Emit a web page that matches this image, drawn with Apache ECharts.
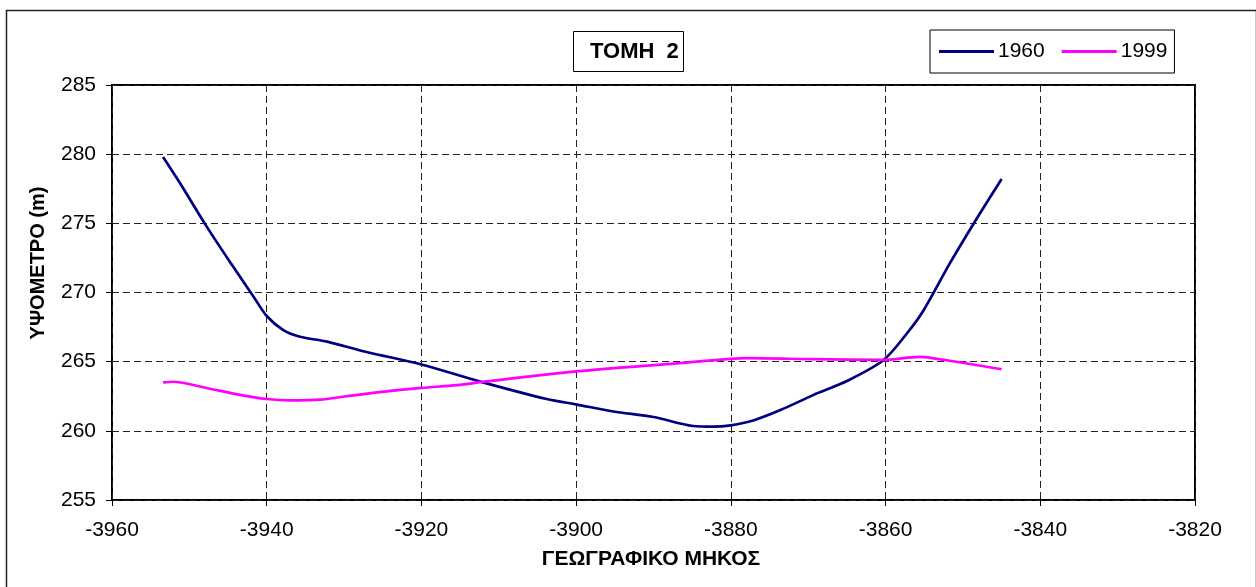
<!DOCTYPE html>
<html>
<head>
<meta charset="utf-8">
<script src="https://cdn.jsdelivr.net/npm/echarts@6/dist/echarts.min.js"></script>
<style>
html,body{margin:0;padding:0;background:#fff;}
#chart{width:1256px;height:587px;}
</style>
</head>
<body>
<div id="chart"></div>
<script>
// ---- data ----
const chartTitle = 'ΤΟΜΗ  2';
const xAxisName = 'ΓΕΩΓΡΑΦΙΚΟ ΜΗΚΟΣ';
const yAxisName = 'ΥΨΟΜΕΤΡΟ (m)';
const seriesNames = ['1960', '1999'];

const x1960 = [-3953.4, -3951.2, -3947.8, -3944.5, -3941.7, -3940.0, -3937.9, -3935.7, -3932.2, -3927.1,
               -3920.0, -3912.4, -3903.8, -3899.9, -3895.2, -3890.0, -3884.9, -3882.3, -3880.0, -3877.1,
               -3873.6, -3869.3, -3865.0, -3860.3, -3857.3, -3855.1, -3851.7, -3848.7, -3845.0];
const y1960 = [279.8, 277.9, 274.8, 272.0, 269.7, 268.3, 267.3, 266.8, 266.45, 265.7,
               264.8, 263.56, 262.3, 261.9, 261.4, 261.0, 260.35, 260.3, 260.4, 260.75,
               261.5, 262.6, 263.6, 265.1, 267.0, 268.7, 272.1, 274.9, 278.2];

const x1999 = [-3953.4, -3952.1, -3947.8, -3943.5, -3940.0, -3937.0, -3933.1, -3929.7, -3925.4, -3920.0,
               -3915.4, -3911.6, -3899.9, -3886.6, -3880.0, -3878.0, -3869.3, -3860.3, -3855.6, -3852.1, -3845.0];
const y1999 = [263.5, 263.55, 263.1, 262.6, 262.3, 262.2, 262.25, 262.5, 262.8, 263.1,
               263.3, 263.57, 264.3, 264.9, 265.2, 265.25, 265.18, 265.13, 265.35, 265.1, 264.45];

const xMin = -3960, xMax = -3820, xStep = 20;
const yMin = 255, yMax = 285, yStep = 5;

const pairs = (xs, ys) => xs.map((x, i) => [x, ys[i]]);

const FONT = '"Liberation Sans", Arial, sans-serif';
const chart = echarts.init(document.getElementById('chart'), null, {renderer: 'canvas'});

chart.setOption({
  animation: false,
  backgroundColor: '#fff',
  title: {
    text: chartTitle,
    left: 573, top: 31,
    padding: [9, 5, 9, 17],
    borderColor: '#000', borderWidth: 1,
    textStyle: {fontFamily: FONT, fontSize: 22, fontWeight: 'bold', color: '#000', lineHeight: 23}
  },
  legend: {
    left: 930, top: 30,
    padding: [11, 7, 11, 9],
    borderColor: '#000', borderWidth: 1,
    itemWidth: 55, itemHeight: 3, itemGap: 17,
    icon: 'rect',
    textStyle: {fontFamily: FONT, fontSize: 21, color: '#000', padding: [0, 0, 0, -1]},
    data: seriesNames
  },
  grid: {
    left: 112, top: 85, width: 1083, height: 415,
    show: true, borderColor: '#000', borderWidth: 2, backgroundColor: 'transparent'
  },
  xAxis: {
    type: 'value', min: xMin, max: xMax, interval: xStep,
    axisLine: {show: false},
    axisTick: {show: true, inside: false, length: 6, lineStyle: {color: '#000'}},
    axisLabel: {fontFamily: FONT, fontSize: 21, color: '#000', margin: 20, formatter: v => String(v)},
    splitLine: {show: true, lineStyle: {color: '#222', width: 1, type: [7, 4]}}
  },
  yAxis: {
    type: 'value', min: yMin, max: yMax, interval: yStep,
    axisLine: {show: false},
    axisTick: {show: true, inside: false, length: 6, lineStyle: {color: '#000'}},
    axisLabel: {fontFamily: FONT, fontSize: 21, color: '#000', margin: 16, formatter: v => String(v)},
    splitLine: {show: true, lineStyle: {color: '#222', width: 1, type: [7, 4]}}
  },
  graphic: [
    {type: 'rect', left: 4, top: 8, shape: {x: 0, y: 0, width: 1250, height: 600}, silent: true,
     style: {fill: 'none', stroke: '#222', lineWidth: 1.5}, z: -1},
    {type: 'text', x: 651, y: 559, silent: true,
     style: {text: xAxisName, fontFamily: FONT, fontSize: 21, fontWeight: 'bold', fill: '#000',
             textAlign: 'center', textVerticalAlign: 'middle'}},
    {type: 'text', x: 38, y: 263, rotation: Math.PI / 2, silent: true,
     style: {text: yAxisName, fontFamily: FONT, fontSize: 20, fontWeight: 'bold', fill: '#000',
             textAlign: 'center', textVerticalAlign: 'middle'}}
  ],
  series: [
    {name: seriesNames[0], type: 'line', data: pairs(x1960, y1960), smooth: 0.3, showSymbol: false,
     color: '#000080', lineStyle: {color: '#000080', width: 2.7}},
    {name: seriesNames[1], type: 'line', data: pairs(x1999, y1999), smooth: 0.3, showSymbol: false,
     color: '#FF00FF', lineStyle: {color: '#FF00FF', width: 2.7}}
  ]
});
</script>
</body>
</html>
